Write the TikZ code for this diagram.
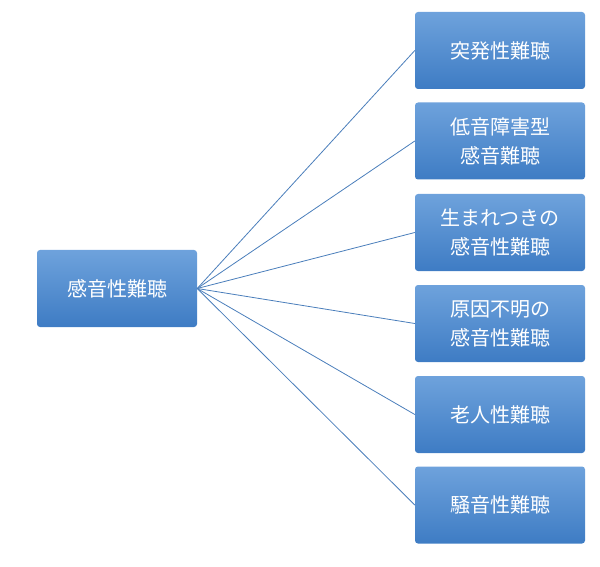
\documentclass[tikz,border=0pt]{standalone}
\usepackage{fontspec}
\newfontfamily\cjk{Noto Sans CJK JP}
\begin{document}
\begin{tikzpicture}[x=1pt,y=1pt]
        \def\boxwd{170pt}
        \def\boxht{77pt}
        \tikzset{cat/.style={rectangle, rounded corners=3pt, draw=none, top color=blue!30!cyan!50!white!70!blue, bottom color=blue!60!cyan!60!black!90!white, minimum width=\boxwd, minimum height=\boxht, align=center, text=white, font=\cjk\fontsize{20}{29}\selectfont, inner sep=2pt},
                 link/.style={draw=blue!50!cyan!70!black, line width=0.8pt}}
        \colorlet{topc}{blue!30!cyan!30!white}
        \useasboundingbox (0,0) rectangle (600,566);
        
        \node[cat, minimum width=160pt, top color={rgb,255:red,110;green,162;blue,220}, bottom color={rgb,255:red,62;green,124;blue,196}] (root) at (117, 277.5) {感音性難聴};
        
        \foreach \n/\y/\t in {r1/515.5/突発性難聴, r2/425/低音障害型\\感音難聴, r3/333.5/生まれつきの\\感音性難聴, r4/242.5/原因不明の\\感音性難聴, r5/151.5/老人性難聴, r6/61/騒音性難聴}
        {
            \node[cat, top color={rgb,255:red,110;green,162;blue,220}, bottom color={rgb,255:red,62;green,124;blue,196}] (\n) at (500, \y) {\t};
            \draw[link, draw={rgb,255:red,74;green,126;blue,187}] (root.east) -- (\n.west);
        }
    \end{tikzpicture}
\end{document}
